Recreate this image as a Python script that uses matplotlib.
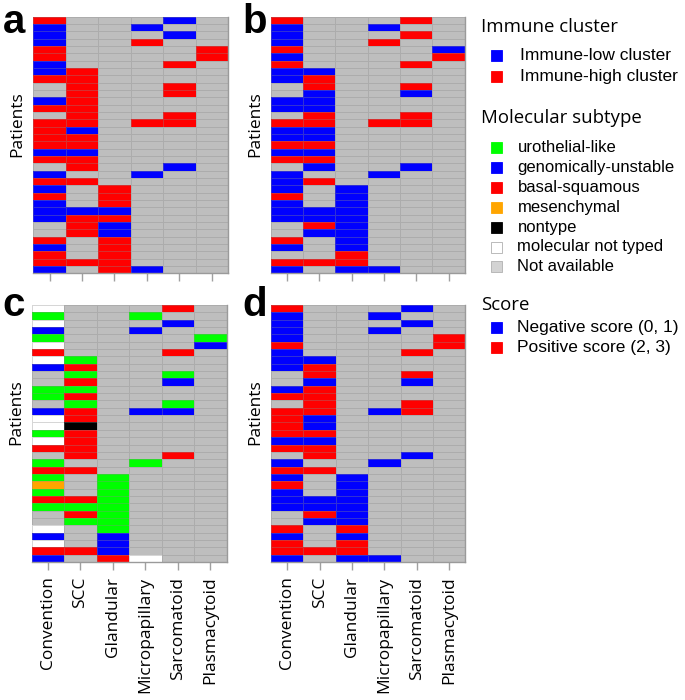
import numpy as np
import matplotlib.pyplot as plt
from matplotlib.colors import ListedColormap, BoundaryNorm
from matplotlib.patches import Rectangle

plt.rcParams['font.family'] = ['Open Sans', 'DejaVu Sans']

# 列名
columns = ['Convention', 'SCC', 'Glandular', 'Micropapillary', 'Sarcomatoid', 'Plasmacytoid']

# 每行一个病人, 每个字符一个列
# R 红, B 蓝, G 绿, O 橙, K 黑, W 白, . 灰(Not available)
panel_a = [
    'R...B.', 'B..B..', 'B...B.', 'B..R..', 'R....R', 'R....R', 'B...R.',
    'BR....', 'RR....', '.R..R.', '.R..R.', 'BR....', 'RR....', '.R..R.',
    'RR.RR.', 'RB....', 'RR....', 'RR....', 'BB....', 'RR....', '.R..B.',
    'B..B..', 'RR....', 'B.R...', 'R.R...', 'B.R...', 'BBB...', 'BRR...',
    '.RB...', '.RB...', 'R.R...', 'B.R...', 'R.R...', 'RRR...', 'B.RB..',
]
panel_b = [
    'R...R.', 'B..B..', 'B...R.', 'B..R..', 'R....B', 'B....R', 'R...R.',
    'BB....', 'BR....', '.R..R.', '.B..B.', 'BB....', 'BB....', '.R..R.',
    'RR.RR.', 'BB....', 'BB....', 'RR....', 'BB....', 'RR....', '.B..B.',
    'B..B..', 'BR....', 'B.B...', 'R.B...', 'B.B...', 'BBB...', 'BBB...',
    '.RB...', '.BB...', 'R.B...', 'B.B...', '..R...', 'RRR...', 'B.BB..',
]
panel_c = [
    'W...R.', 'G..G..', 'W...B.', 'B..B..', 'G....G', 'W....B', 'R...R.',
    'WG....', 'BR....', '.G..G.', '.R..B.', 'GG....', 'GR....', '.G..G.',
    'BR.BB.', 'WR....', 'WK....', 'GR....', 'WR....', 'RR....', '.R..R.',
    'G..G..', 'RR....', 'G.G...', 'O.G...', 'G.G...', 'RRG...', 'GGG...',
    '.RG...', '.GG...', 'W.G...', 'B.B...', 'W.B...', 'RRB...', 'B.RW..',
]
panel_d = [
    'R...B.', 'B..B..', 'B...B.', 'B..B..', 'B....R', 'R....R', 'B...R.',
    'BB....', 'BR....', '.R..R.', '.B..B.', 'BR....', 'RR....', '.R..R.',
    'RR.BR.', 'RB....', 'RB....', 'RR....', 'BB....', 'RR....', '.R..B.',
    'B..B..', 'RR....', 'B.B...', 'R.B...', 'B.B...', 'BBB...', 'BBB...',
    '.RB...', '.BB...', 'R.R...', 'B.B...', 'R.R...', 'RRR...', 'B.BB..',
]

# 颜色
codes = '.RBGOKW'
colors = ['#bebebe', '#ff0000', '#0000ff', '#00ff00', '#ffa500', '#000000', '#ffffff']
cmap = ListedColormap(colors)
norm = BoundaryNorm(np.arange(len(codes) + 1) - 0.5, cmap.N)

# 图例
immune_labels = ['Immune-low cluster', 'Immune-high cluster']
immune_colors = ['#0000ff', '#ff0000']
subtype_labels = ['urothelial-like', 'genomically-unstable', 'basal-squamous', 'mesenchymal',
                  'nontype', 'molecular not typed', 'Not available']
subtype_colors = ['#00ff00', '#0000ff', '#ff0000', '#ffa500', '#000000', '#ffffff', '#d3d3d3']
score_labels = ['Negative score (0, 1)', 'Positive score (2, 3)']
score_colors = ['#0000ff', '#ff0000']

fig = plt.figure(figsize=(6.85, 7.0), dpi=100)

W, H = 685, 700
# 面板位置(像素): 左, 上, 右, 下
boxes = {
    'a': (panel_a, (33.3, 16.7, 228.0, 273.3), False),
    'b': (panel_b, (270.7, 16.7, 464.7, 273.3), False),
    'c': (panel_c, (31.7, 305.0, 226.7, 562.0), True),
    'd': (panel_d, (271.0, 305.0, 465.3, 562.0), True),
}


def to_matrix(rows):
    return np.array([[codes.index(ch) for ch in r] for r in rows])


for letter, (rows, (x0, y0, x1, y1), show_labels) in boxes.items():
    ax = fig.add_axes([x0 / W, 1 - y1 / H, (x1 - x0) / W, (y1 - y0) / H])
    m = to_matrix(rows)
    ax.pcolormesh(m, cmap=cmap, norm=norm, edgecolors=(0.55, 0.55, 0.55, 0.35), linewidth=0.6)
    ax.set_xlim(0, 6)
    ax.set_ylim(len(rows), 0)
    ax.set_yticks([])
    ax.set_xticks(np.arange(6) + 0.5)
    if show_labels:
        ax.set_xticklabels(columns, rotation=90, fontsize=12.5)
    else:
        ax.set_xticklabels([])
    ax.tick_params(axis='x', length=5.5, width=1, color='#a0a0a0', pad=5)
    for side in ['top', 'left']:
        ax.spines[side].set_visible(False)
    for side in ['bottom', 'right']:
        ax.spines[side].set_color('#9a9a9a')
        ax.spines[side].set_linewidth(1)
    ax.text(-0.08, 0.583, 'Patients', rotation=90, transform=ax.transAxes,
            ha='center', va='center', fontsize=12.5)

# 图例与字母用一个覆盖全图的像素坐标轴
lax = fig.add_axes([0, 0, 1, 1], facecolor='none')
lax.set_xlim(0, W)
lax.set_ylim(H, 0)
lax.axis('off')

# 面板字母
for letter, (x, y) in {'a': (3, 33), 'b': (242, 33), 'c': (2, 316), 'd': (242, 316)}.items():
    lax.text(x, y, letter, fontsize=29, fontweight='bold', family='Liberation Sans',
             ha='left', va='baseline')


def legend_block(title, title_y, labels, cols, first_y, step, text_x, size):
    lax.text(481, title_y, title, fontsize=13.4, ha='left', va='center')
    for i, (lab, col) in enumerate(zip(labels, cols)):
        y = first_y + i * step
        lax.add_patch(Rectangle((491.5, y - 5.5), 11, 11, facecolor=col,
                                edgecolor='#b0b0b0' if col in ('#ffffff', '#d3d3d3') else col, lw=0.6))
        lax.text(text_x, y, lab, fontsize=size, family='Liberation Sans', ha='left', va='center')


legend_block('Immune cluster', 27, immune_labels, immune_colors, 55, 21, 520, 12.5)
legend_block('Molecular subtype', 118, subtype_labels, subtype_colors, 147.5, 19.9, 517.5, 12)
legend_block('Score', 305, score_labels, score_colors, 327.5, 20, 517.5, 12.5)

plt.savefig('out.png', dpi=100)
